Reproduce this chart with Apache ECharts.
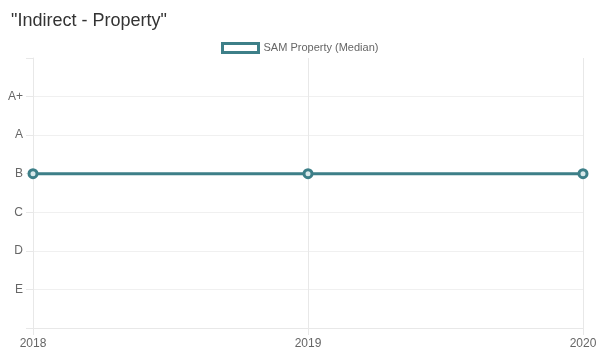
<!DOCTYPE html>
<html>
<head>
<meta charset="utf-8">
<script src="https://cdn.jsdelivr.net/npm/echarts@6/dist/echarts.min.js"></script>
<style>
  html, body { margin: 0; padding: 0; background: #fff; }
  #chart { width: 606px; height: 351px; }
</style>
</head>
<body>
<div id="chart"></div>
<script>
// Rating scale, bottom to top (blank ends pad the axis)
const ratingLabels = ['', 'E', 'D', 'C', 'B', 'A', 'A+', ''];
const years = ['2018', '2019', '2020'];
// Median rating per year as an index into ratingLabels
const medianRating = [4, 4, 4];

const teal = '#3d7f88';
const gridColor = '#e8e8e8';

const chart = echarts.init(document.getElementById('chart'));
chart.setOption({
  animation: false,
  textStyle: { fontFamily: 'Liberation Sans, Arial, sans-serif' },
  title: {
    text: '"Indirect - Property"',
    left: 6,
    top: 7,
    textStyle: { fontSize: 18, fontWeight: 'normal', color: '#333' }
  },
  legend: {
    top: 37,
    left: 216,
    icon: 'rect',
    itemWidth: 36,
    itemHeight: 9,
    itemGap: 10,
    textStyle: { fontSize: 11, color: '#666' },
    itemStyle: { color: '#fff', borderColor: teal, borderWidth: 3 }
  },
  grid: { left: 33, right: 23, top: 58, bottom: 23, containLabel: false },
  xAxis: {
    type: 'category',
    data: years,
    boundaryGap: false,
    axisLine: { lineStyle: { color: gridColor } },
    axisTick: { show: true, length: 7, lineStyle: { color: gridColor } },
    axisLabel: { color: '#666', fontSize: 12, margin: 10 },
    splitLine: { show: true, lineStyle: { color: gridColor } }
  },
  yAxis: {
    type: 'value',
    min: 0,
    max: 7,
    interval: 1,
    axisLine: { show: true, lineStyle: { color: gridColor } },
    axisTick: { show: true, length: 7, lineStyle: { color: gridColor } },
    axisLabel: {
      color: '#666',
      fontSize: 12,
      margin: 10,
      formatter: v => ratingLabels[v] || ''
    },
    splitLine: {
      show: true,
      lineStyle: {
        color: ratingLabels.map((l, i) => i === ratingLabels.length - 1 ? 'rgba(0,0,0,0)' : '#f0f0f0')
      }
    }
  },
  series: [{
    name: 'SAM Property (Median)',
    type: 'line',
    data: medianRating,
    symbol: 'circle',
    symbolSize: 8,
    lineStyle: { color: teal, width: 3 },
    itemStyle: { color: '#d8e8ea', borderColor: teal, borderWidth: 3 }
  }]
});
</script>
</body>
</html>
